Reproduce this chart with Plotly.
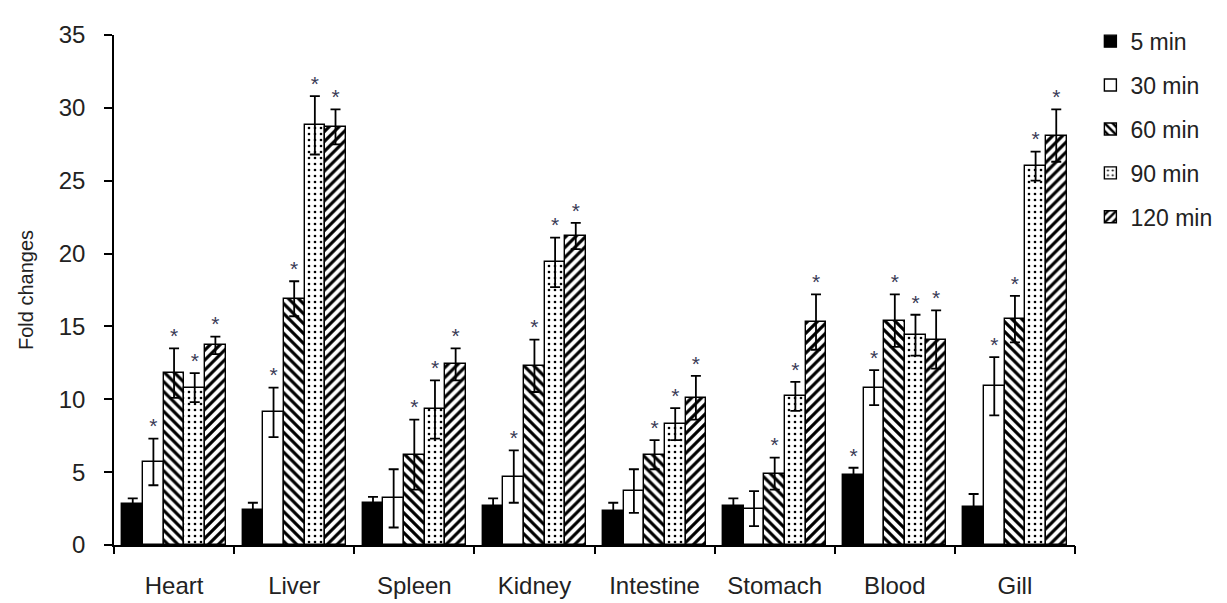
import plotly.graph_objects as go

categories = ["Heart", "Liver", "Spleen", "Kidney", "Intestine", "Stomach", "Blood", "Gill"]
series_names = ["5 min", "30 min", "60 min", "90 min", "120 min"]

v5 = [2.8, 2.4, 2.9, 2.7, 2.3, 2.7, 4.8, 2.6]
v30 = [5.7, 9.1, 3.2, 4.7, 3.7, 2.5, 10.8, 10.9]
v60 = [11.8, 16.9, 6.2, 12.3, 6.2, 4.9, 15.4, 15.5]
v90 = [10.8, 28.8, 9.3, 19.4, 8.3, 10.2, 14.4, 26.0]
v120 = [13.7, 28.7, 12.4, 21.2, 10.1, 15.3, 14.1, 28.1]

e5 = [0.4, 0.5, 0.4, 0.5, 0.6, 0.5, 0.5, 0.9]
e30 = [1.6, 1.7, 2.0, 1.8, 1.5, 1.2, 1.2, 2.0]
e60 = [1.7, 1.2, 2.4, 1.8, 1.0, 1.1, 1.8, 1.6]
e90 = [1.0, 2.0, 2.0, 1.7, 1.1, 1.0, 1.4, 1.0]
e120 = [0.6, 1.2, 1.1, 0.9, 1.5, 1.9, 2.0, 1.8]

sig5 = [0, 0, 0, 0, 0, 0, 1, 0]
sig30 = [1, 1, 0, 1, 0, 0, 1, 1]
sig60 = [1, 1, 1, 1, 1, 1, 1, 1]
sig90 = [1, 1, 1, 1, 1, 1, 1, 1]
sig120 = [1, 1, 1, 1, 1, 1, 1, 1]

values = [v5, v30, v60, v90, v120]
errors = [e5, e30, e60, e90, e120]
sigs = [sig5, sig30, sig60, sig90, sig120]

styles = [
    dict(color="black", pattern=None),
    dict(color="white", pattern=None),
    dict(color="white", pattern=dict(shape="\\", fgcolor="black", bgcolor="white", size=7, solidity=0.45, fillmode="replace")),
    dict(color="white", pattern=dict(shape=".", fgcolor="black", bgcolor="white", size=6, solidity=0.15, fillmode="replace")),
    dict(color="white", pattern=dict(shape="/", fgcolor="black", bgcolor="white", size=7, solidity=0.45, fillmode="replace")),
]

FONT = "Liberation Sans, Arial, sans-serif"
bw = 0.172
n = len(series_names)
centers = list(range(len(categories)))

fig = go.Figure()
for k in range(n):
    xs = [c + (k - (n - 1) / 2) * bw for c in centers]
    marker = dict(color=styles[k]["color"], line=dict(color="black", width=1.4))
    if styles[k]["pattern"] is not None:
        marker["pattern"] = styles[k]["pattern"]
    fig.add_trace(go.Bar(
        x=xs, y=values[k], width=bw, name=series_names[k], marker=marker,
        legendgroup=series_names[k],
        error_y=dict(type="data", array=errors[k], visible=True, color="black", thickness=1.8, width=5),
    ))
    sx = [x for x, s in zip(xs, sigs[k]) if s]
    sy = [v + e for v, e, s in zip(values[k], errors[k], sigs[k]) if s]
    fig.add_trace(go.Scatter(
        x=sx, y=sy, mode="text", text=["*"] * len(sx), textposition="top center",
        textfont=dict(family=FONT, size=21, color="#3a3a55"),
        showlegend=False, hoverinfo="skip",
    ))

boundaries = [c - 0.5 for c in centers] + [centers[-1] + 0.5]
fig.add_trace(go.Scatter(x=[boundaries[0], boundaries[-1]], y=[0, 0], xaxis="x2", mode="lines",
                         line=dict(width=0), showlegend=False, hoverinfo="skip"))

xr = [-0.5, len(categories) - 0.5]
fig.update_layout(
    width=1227, height=603,
    margin=dict(l=106, r=160, t=23, b=52),
    plot_bgcolor="white", paper_bgcolor="white",
    font=dict(family=FONT, color="#222222"),
    bargap=0, showlegend=True,
    xaxis=dict(range=xr, tickvals=centers, ticktext=categories, ticks="", showgrid=False,
               zeroline=False, showline=True, linecolor="black", linewidth=1.6,
               tickfont=dict(size=24), ticklabelstandoff=18),
    xaxis2=dict(range=xr, overlaying="x", side="bottom", tickvals=boundaries, ticks="outside",
                ticklen=8, tickcolor="black", tickwidth=1.6, showticklabels=False, showgrid=False,
                zeroline=False, showline=False),
    yaxis=dict(range=[0, 35], tickvals=[0, 5, 10, 15, 20, 25, 30, 35], ticks="outside", ticklen=8,
               tickcolor="black", tickwidth=1.6, showline=True, linecolor="black", linewidth=1.6,
               showgrid=False, zeroline=False, tickfont=dict(size=24), ticklabelstandoff=14,
               title=dict(text="Fold changes", font=dict(size=20), standoff=20)),
    legend=dict(x=1.016, y=1.03, xanchor="left", yanchor="top", font=dict(size=23),
                traceorder="grouped", tracegroupgap=11, itemwidth=30, bgcolor="rgba(0,0,0,0)"),
)

fig.write_html("out.html")
